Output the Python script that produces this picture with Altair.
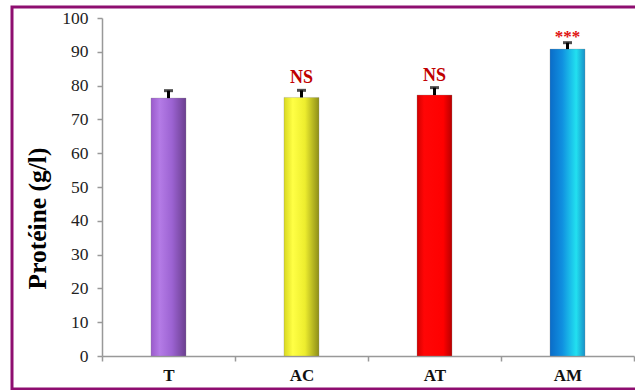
import altair as alt
import pandas as pd

groups = ["T", "AC", "AT", "AM"]
values = [76.3, 76.5, 77.2, 90.8]
errors = [2.2, 2.1, 2.2, 1.9]
signif = ["", "NS", "NS", "***"]
y_ticks = [0, 10, 20, 30, 40, 50, 60, 70, 80, 90, 100]

df = pd.DataFrame({"group": groups, "value": values, "err": errors, "sig": signif})
df["top"] = df["value"] + df["err"]

gradients = {
    "T": [("#9A5ACB", 0), ("#B47BE6", 0.25), ("#9C63D2", 0.6), ("#6B3F8F", 1)],
    "AC": [("#D8D820", 0), ("#FFFF45", 0.25), ("#EDED2E", 0.6), ("#8E8E18", 1)],
    "AT": [("#D00000", 0), ("#FF0606", 0.2), ("#FF0000", 0.75), ("#B80000", 1)],
    "AM": [("#0A6CC8", 0), ("#1090E0", 0.35), ("#22E0F0", 0.75), ("#1890C8", 1)],
}

xscale = alt.Scale(domain=groups, paddingInner=0, paddingOuter=0)
yscale = alt.Scale(domain=[0, 100], nice=False)

xaxis = alt.Axis(title=None, labelAngle=0, tickBand="extent", labelFont="Liberation Serif",
                 labelFontSize=17, labelFontWeight="bold", labelColor="#111",
                 domainColor="#999", domainWidth=1.5, tickColor="#999", tickSize=5,
                 tickWidth=1.5, labelPadding=6)
yaxis = alt.Axis(title="Protéine (g/l)", values=y_ticks, grid=False, labelOverlap=False,
                 labelFont="Liberation Serif", labelFontSize=17.5, labelColor="#222",
                 domainColor="#999", domainWidth=1.5, tickColor="#999", tickSize=5,
                 tickWidth=1.5, labelPadding=9,
                 titleFont="Liberation Serif", titleFontSize=25.5, titleFontWeight="bold",
                 titleColor="#000", titleAngle=-90, titleX=-57, titleY=200,
                 titleAlign="center", titleBaseline="alphabetic")

xenc = alt.X("group:N", scale=xscale, sort=groups, axis=xaxis)
yenc = alt.Y("value:Q", scale=yscale, axis=yaxis)
ytop = alt.Y("top:Q", scale=yscale, axis=yaxis)

base = alt.Chart(df)

bars = []
for g in groups:
    stops = [alt.GradientStop(color=c, offset=o) for c, o in gradients[g]]
    grad = alt.Gradient(gradient="linear", stops=stops, x1=0, x2=1, y1=0, y2=0)
    bars.append(
        base.transform_filter(alt.datum.group == g)
        .mark_bar(width=35, fill=grad, stroke="#888", strokeWidth=0.5, strokeOpacity=0.6)
        .encode(x=xenc, y=yenc)
    )

stem = base.mark_rule(color="#000", strokeWidth=3).encode(x=xenc, y=yenc, y2="top:Q")
cap = base.mark_tick(color="#000", thickness=3, size=9).encode(x=xenc, y=ytop)

ns_text = base.transform_filter(alt.datum.sig == "NS").mark_text(
    font="Liberation Serif", fontSize=18, fontWeight="bold", color="#C00000",
    baseline="alphabetic", dy=-7
).encode(x=xenc, y=ytop, text="sig:N")

star_text = base.transform_filter(alt.datum.sig == "***").mark_text(
    font="Liberation Serif", fontSize=17, fontWeight="bold", color="#E01010",
    baseline="alphabetic", dy=-1
).encode(x=xenc, y=ytop, text="sig:N")

frame = alt.Chart(pd.DataFrame({"a": [0]})).mark_rect(
    fill=None, stroke="#8E0E70", strokeWidth=3
).encode(x=alt.value(-90), x2=alt.value(540), y=alt.value(-11), y2=alt.value(371))

chart = alt.layer(*bars, stem, cap, ns_text, star_text, frame).properties(
    width=532, height=338,
    padding={"left": 102, "top": 18, "right": 1, "bottom": 34},
    autosize=alt.AutoSizeParams(type="none"),
    background="white",
).configure_view(stroke=None).configure_axis(
    labelFont="Liberation Serif", labelColor="#222"
)

chart.save("out.html", embed_options={"renderer": "svg", "actions": False})
